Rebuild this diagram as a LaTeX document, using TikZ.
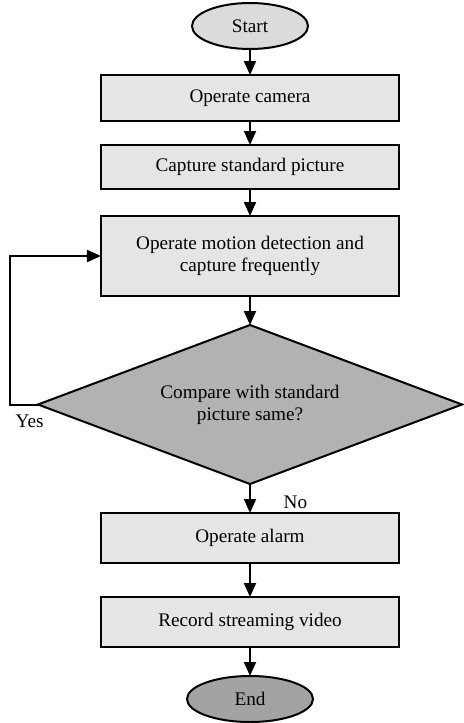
\documentclass[tikz,border=0pt]{standalone}
\usepackage{fontspec}
\setmainfont{Liberation Serif}
\usetikzlibrary{arrows.meta, positioning, shapes.geometric}

\definecolor{startgray}{gray}{0.86}
\definecolor{boxgray}{gray}{0.90}
\definecolor{diagray}{gray}{0.70}
\definecolor{endgray}{gray}{0.64}

\begin{document}
\begin{tikzpicture}[
            > = {Triangle[width=6pt, length=7pt]}, % arrow head style
            auto,
            node distance = 13pt, % distance between nodes
            line width = 1pt, % line style
            font = \fontsize{9.6}{11}\selectfont
        ]

        \tikzstyle{terminal}=[
            ellipse,
            draw = black,
            outer sep = 0pt,
            inner sep = 1pt
        ]
        \tikzstyle{process}=[
            rectangle,
            draw = black,
            fill = boxgray,
            outer sep = 0pt,
            minimum width = 149pt,
            align = center
        ]
        \tikzstyle{decision}=[
            diamond,
            draw = black,
            fill = diagray,
            aspect = 2.67,
            minimum width = 212pt,
            minimum height = 79.5pt,
            outer sep = 0pt,
            inner sep = 1pt,
            align = center
        ]

        \useasboundingbox (-125pt, 13pt) rectangle (106.5pt, -348.5pt);

        \node[terminal, fill=startgray, minimum width=58pt, minimum height=23pt] (start) {Start};
        \node[process, minimum height=23pt] (camera) [below=13pt of start] {Operate camera};
        \node[process, minimum height=22pt] (capture) [below=12pt of camera] {Capture standard picture};
        \node[process, minimum height=40pt] (detect) [below=13.5pt of capture] {Operate motion detection and\\capture frequently};
        \node[decision] (compare) [below=14.5pt of detect] {Compare with standard\\picture same?};
        \node[process, minimum height=25pt] (alarm) [below=14.5pt of compare] {Operate alarm};
        \node[process, minimum height=25pt] (record) [below=17pt of alarm] {Record streaming video};
        \node[terminal, fill=endgray, minimum width=63pt, minimum height=23pt] (end) [below=14.5pt of record] {End};

        \path[->] (start) edge (camera);
        \path[->] (camera) edge (capture);
        \path[->] (capture) edge (detect);
        \path[->] (detect) edge (compare);
        \path[->] (compare) edge node[xshift=13pt, yshift=-1.75pt] {No} (alarm);
        \path[->] (alarm) edge (record);
        \path[->] (record) edge (end);

        \draw[->] (compare.west) -- node[below, pos=0.3, yshift=-1.5pt] {Yes} ++(-14pt, 0) |- (detect.west);
    \end{tikzpicture}
\end{document}
